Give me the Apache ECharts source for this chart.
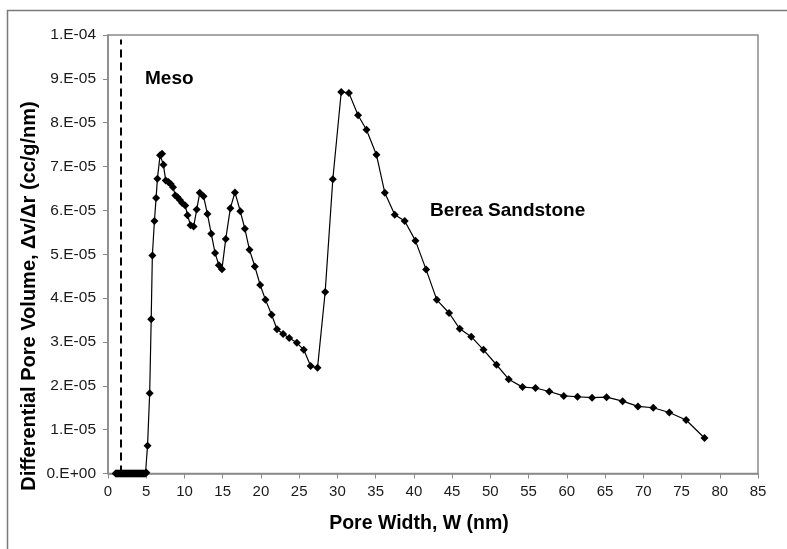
<!DOCTYPE html>
<html>
<head>
<meta charset="utf-8">
<script src="https://cdn.jsdelivr.net/npm/echarts@6/dist/echarts.min.js"></script>
<style>html,body{margin:0;padding:0;background:#fff;}#c{width:787px;height:549px;}</style>
</head>
<body>
<div id="c"></div>
<script>
// Pore width (nm)
var poreWidth = [1.0,1.1,1.2,1.3,1.4,1.5,1.6,1.7,1.8,1.9,2.0,2.1,2.2,2.3,2.4,2.5,2.6,2.7,2.8,2.9,3.0,3.1,3.2,3.3,3.4,3.5,
  3.6,3.7,3.8,3.9,4.0,4.1,4.2,4.3,4.4,4.5,4.6,4.7,4.8,4.9,5.0,
  5.17,5.45,5.65,5.8,6.07,6.29,6.46,6.81,7.07,7.25,7.55,7.9,8.2,8.5,8.8,9.1,9.4,9.7,10.1,10.4,10.8,11.2,
  11.6,12.0,12.5,13.0,13.5,14.0,14.5,14.9,15.4,16.0,16.6,17.3,17.9,18.5,19.2,19.9,20.6,21.4,22.1,22.9,23.7,
  24.7,25.6,26.5,27.4,28.4,29.4,30.5,31.5,32.7,33.8,35.1,36.2,37.5,38.8,40.2,41.6,43.0,44.6,46.0,47.5,49.1,
  50.8,52.4,54.2,55.9,57.7,59.6,61.4,63.3,65.2,67.3,69.3,71.3,73.4,75.6,78.0];
// Differential pore volume (cc/g/nm)
var poreVolume = [0,0,0,0,0,0,0,0,0,0,0,0,0,0,0,0,0,0,0,0,0,0,0,0,0,0,
  0,0,0,0,0,0,0,0,0,0,0,0,0,0,0.2e-6,
  6.3e-6,18.3e-6,35.2e-6,49.7e-6,57.6e-6,62.8e-6,67.2e-6,72.6e-6,72.9e-6,70.4e-6,66.8e-6,66.5e-6,66.0e-6,65.3e-6,63.4e-6,63.0e-6,62.4e-6,61.7e-6,61.1e-6,58.9e-6,56.6e-6,56.3e-6,
  60.2e-6,64.0e-6,63.2e-6,59.2e-6,54.7e-6,50.3e-6,47.5e-6,46.6e-6,53.5e-6,60.5e-6,64.1e-6,59.8e-6,55.8e-6,51.0e-6,47.2e-6,43.0e-6,39.6e-6,36.2e-6,32.9e-6,31.8e-6,30.9e-6,
  29.8e-6,28.2e-6,24.5e-6,24.1e-6,41.4e-6,67.1e-6,87.0e-6,86.8e-6,81.7e-6,78.4e-6,72.7e-6,64.0e-6,59.0e-6,57.6e-6,53.1e-6,46.5e-6,39.6e-6,36.6e-6,33.0e-6,31.2e-6,28.2e-6,
  24.8e-6,21.5e-6,19.7e-6,19.5e-6,18.7e-6,17.7e-6,17.5e-6,17.3e-6,17.4e-6,16.5e-6,15.3e-6,15.0e-6,13.9e-6,12.2e-6,8.1e-6];
// Meso boundary line
var mesoX = [1.7, 1.7];
var mesoY = [0, 99e-6];
var yTickLabels = ["0.E+00","1.E-05","2.E-05","3.E-05","4.E-05","5.E-05","6.E-05","7.E-05","8.E-05","9.E-05","1.E-04"];

var chart = echarts.init(document.getElementById('c'));
var font = 'Liberation Sans, Arial, sans-serif';
chart.setOption({
  animation: false,
  backgroundColor: '#fff',
  grid: {left: 108, top: 35, right: 29, bottom: 75.5, show: true, borderColor: '#8a8a8a', borderWidth: 1.5},
  xAxis: {
    type: 'value', min: 0, max: 85, interval: 5,
    axisLine: {show: true, lineStyle: {color: '#8a8a8a', width: 1.5}},
    axisTick: {show: true, length: 5, lineStyle: {color: '#8a8a8a'}},
    axisLabel: {color: '#1a1a1a', fontFamily: font, fontSize: 15, margin: 11},
    splitLine: {show: false}
  },
  yAxis: {
    type: 'value', min: 0, max: 1e-4, interval: 1e-5,
    axisLine: {show: true, lineStyle: {color: '#8a8a8a', width: 1.5}},
    axisTick: {show: true, length: 5, lineStyle: {color: '#8a8a8a'}},
    axisLabel: {color: '#1a1a1a', fontFamily: font, fontSize: 15.5, margin: 12,
      formatter: function (v) { return yTickLabels[Math.round(v / 1e-5)]; }},
    splitLine: {show: false}
  },
  series: [
    {
      type: 'line',
      data: poreWidth.map(function (x, i) { return [x, poreVolume[i]]; }),
      symbol: 'diamond', symbolSize: 8,
      lineStyle: {color: '#000', width: 1.2},
      itemStyle: {color: '#000'},
      z: 3
    },
    {
      type: 'line',
      data: mesoX.map(function (x, i) { return [x, mesoY[i]]; }),
      symbol: 'none',
      lineStyle: {color: '#000', width: 2, type: [8, 5]},
      z: 2
    }
  ],
  graphic: [
    {type: 'rect', shape: {x: 7.5, y: 10.5, width: 800, height: 600}, style: {fill: 'none', stroke: '#7a7a7a', lineWidth: 1.5}, silent: true},
    {type: 'text', x: 145, y: 79, style: {text: 'Meso', font: 'bold 19px ' + font, fill: '#000', textVerticalAlign: 'middle'}},
    {type: 'text', x: 430, y: 211, style: {text: 'Berea Sandstone', font: 'bold 19px ' + font, fill: '#000', textVerticalAlign: 'middle'}},
    {type: 'text', x: 419, y: 524, style: {text: 'Pore Width, W (nm)', font: 'bold 19.5px ' + font, fill: '#000', textAlign: 'center', textVerticalAlign: 'middle'}},
    {type: 'text', x: 29, y: 296, rotation: Math.PI / 2, style: {text: 'Differential Pore Volume, Δv/Δr (cc/g/nm)', font: 'bold 20px ' + font, fill: '#000', textAlign: 'center', textVerticalAlign: 'middle'}}
  ]
});
</script>
</body>
</html>
